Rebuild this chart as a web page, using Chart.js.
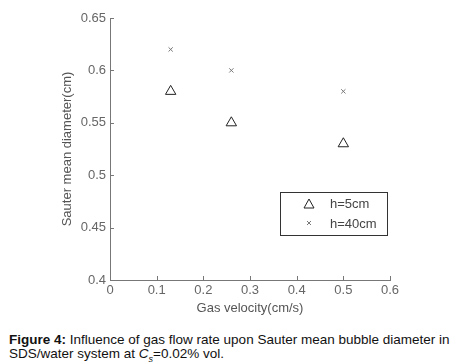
<!DOCTYPE html>
<html lang="en">
  <head>
    <meta charset="UTF-8" />
    <title>Sauter mean diameter</title>
    <script src="https://cdn.jsdelivr.net/npm/chart.js"></script>
    <style>
      body { margin: 0; background: #fff; }
      #wrap { position: relative; width: 460px; height: 364px; }
      #chart { position: absolute; left: 0; top: 0; }
      .cap {
        position: absolute; left: 9px; width: 450px;
        font-family: "Liberation Sans", Arial, sans-serif;
        font-size: 13.5px; color: #111; white-space: nowrap; line-height: 15px;
      }
    </style>
  </head>
  <body>
    <div id="wrap">
      <canvas id="chart" width="460" height="330"></canvas>
      <div class="cap" style="top:332px"><b>Figure 4:</b> Influence of gas flow rate upon Sauter mean bubble diameter in</div>
      <div class="cap" style="top:346px">SDS/water system at <i>C</i><sub style="font-size:9px;line-height:0"><i>s</i></sub>=0.02% vol.</div>
    </div>

    <script>
      // data
      const velocity = [0.13, 0.26, 0.5];
      const d5cm = [0.58, 0.55, 0.53];
      const d40cm = [0.62, 0.6, 0.58];
      const xTicks = [0, 0.1, 0.2, 0.3, 0.4, 0.5, 0.6];
      const yTicks = [0.4, 0.45, 0.5, 0.55, 0.6, 0.65];

      const toPts = (ys) => velocity.map((v, i) => ({ x: v, y: ys[i] }));

      // small inward ticks, matlab style
      const innerTicks = {
        id: "innerTicks",
        afterDraw(chart) {
          const { ctx, chartArea: a, scales } = chart;
          ctx.save();
          ctx.strokeStyle = "#777";
          ctx.lineWidth = 1;
          ctx.beginPath();
          xTicks.forEach((t) => {
            const px = Math.round(scales.x.getPixelForValue(t)) + 0.5;
            ctx.moveTo(px, a.bottom);
            ctx.lineTo(px, a.bottom - 4);
          });
          yTicks.forEach((t) => {
            const py = Math.round(scales.y.getPixelForValue(t)) + 0.5;
            ctx.moveTo(a.left, py);
            ctx.lineTo(a.left + 4, py);
          });
          ctx.stroke();
          ctx.restore();
        },
      };

      // legend box inside the plot
      const boxLegend = {
        id: "boxLegend",
        afterDraw(chart) {
          const { ctx } = chart;
          const x = 280, y = 192, w = 107, h = 43;
          ctx.save();
          ctx.fillStyle = "#fff";
          ctx.fillRect(x, y, w, h);
          ctx.strokeStyle = "#333";
          ctx.lineWidth = 1;
          ctx.strokeRect(x + 0.5, y + 0.5, w, h);
          // triangle
          ctx.strokeStyle = "#222";
          ctx.beginPath();
          ctx.moveTo(309, 199);
          ctx.lineTo(314, 208);
          ctx.lineTo(304, 208);
          ctx.closePath();
          ctx.stroke();
          // cross
          ctx.strokeStyle = "#777";
          ctx.beginPath();
          ctx.moveTo(307, 221); ctx.lineTo(311, 225);
          ctx.moveTo(311, 221); ctx.lineTo(307, 225);
          ctx.stroke();
          ctx.fillStyle = "#444";
          ctx.font = "13px 'Liberation Sans', Arial, sans-serif";
          ctx.textBaseline = "middle";
          ctx.fillText(chart.data.datasets[0].label, 330, 204);
          ctx.fillText(chart.data.datasets[1].label, 330, 224);
          ctx.restore();
        },
      };

      const tickFont = { family: "'Liberation Sans', Arial, sans-serif", size: 13 };

      new Chart(document.getElementById("chart"), {
        type: "scatter",
        data: {
          datasets: [
            {
              label: "h=5cm",
              data: toPts(d5cm),
              pointStyle: "triangle",
              radius: 6,
              borderColor: "#222",
              backgroundColor: "rgba(0,0,0,0)",
              borderWidth: 1,
            },
            {
              label: "h=40cm",
              data: toPts(d40cm),
              pointStyle: "crossRot",
              radius: 3,
              borderColor: "#777",
              borderWidth: 1,
            },
          ],
        },
        options: {
          responsive: false,
          animation: false,
          events: [],
          layout: { padding: { left: 60, top: 18, right: 70, bottom: 14 } },
          plugins: { legend: { display: false }, tooltip: { enabled: false } },
          scales: {
            x: {
              type: "linear",
              min: 0,
              max: 0.6,
              afterBuildTicks: (s) => { s.ticks = xTicks.map((v) => ({ value: v })); },
              afterFit: (s) => { s.height = 36; },
              border: { color: "#777", width: 1 },
              grid: { display: false, drawTicks: false },
              ticks: { color: "#666", font: tickFont, padding: 3, callback: (v) => String(v) },
              title: { display: true, text: "Gas velocity(cm/s)", color: "#555", font: tickFont, padding: 0 },
            },
            y: {
              type: "linear",
              min: 0.4,
              max: 0.65,
              afterBuildTicks: (s) => { s.ticks = yTicks.map((v) => ({ value: v })); },
              afterFit: (s) => { s.width = 50; },
              border: { color: "#777", width: 1 },
              grid: { display: false, drawTicks: false },
              ticks: { color: "#666", font: tickFont, padding: 4, callback: (v) => String(v) },
              title: { display: true, text: "Sauter mean diameter(cm)", color: "#555", font: tickFont, padding: 0 },
            },
          },
        },
        plugins: [innerTicks, boxLegend],
      });
    </script>
  </body>
</html>
